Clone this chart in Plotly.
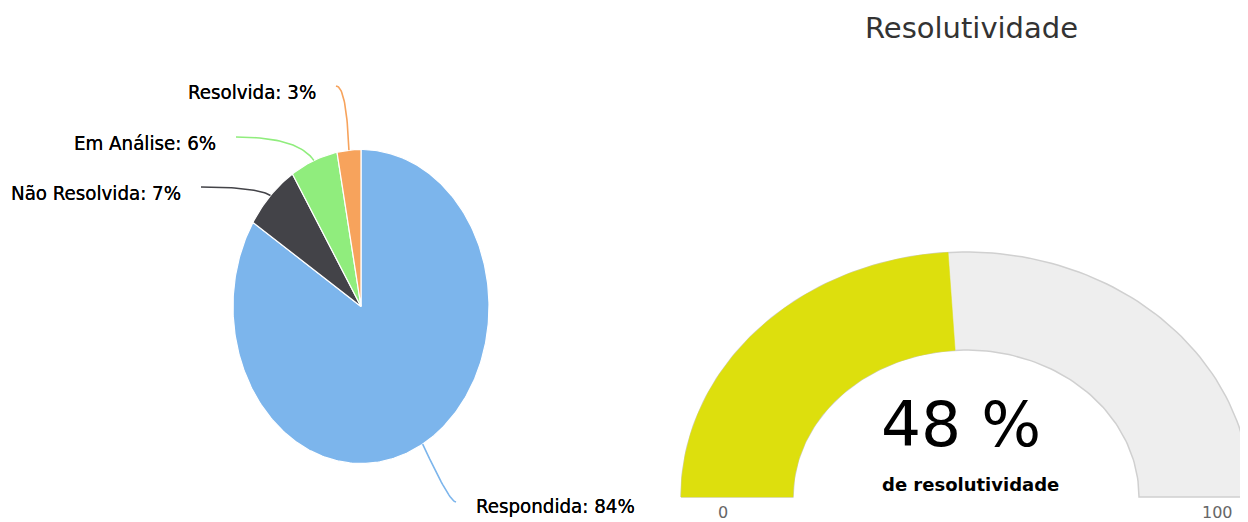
import numpy as np
import plotly.graph_objects as go

# ---------------- data ----------------
pie_labels = ["Respondida", "Não Resolvida", "Em Análise", "Resolvida"]
pie_values = [84, 7, 6, 3]
pie_colors = ["#7cb5ec", "#434348", "#90ed7d", "#f7a35c"]

gauge_title = "Resolutividade"
gauge_value = 48
gauge_min = 0
gauge_max = 100
gauge_caption = "de resolutividade"

# ---------------- layout constants (pixel space) ----------------
W, H = 1248, 522
OFF = 8  # page body margin
PIE_CX, PIE_CY, PIE_RX, PIE_RY = 361, 306.5, 128, 157
G_CX, G_CY = 966, 497
G_RXO, G_RYO, G_RXI, G_RYI = 285, 245, 173, 147

# label placement: (anchor side, text x, text y, connector bend factor)
label_pos = {
    "Respondida": ("left", 474, 506, 0.8),
    "Não Resolvida": ("right", 183, 193, 0.2),
    "Em Análise": ("right", 218, 143, 0.2),
    "Resolvida": ("right", 318, 92, 0.2),
}
LABEL_FONT = dict(family="Liberation Sans Narrow, DejaVu Sans Condensed, Arial Narrow, sans-serif",
                  size=20.3, color="#000000", shadow="0px 0px 0.6px #000")

fig = go.Figure()

# ---------------- pie (elliptical, drawn from values) ----------------
total = float(sum(pie_values))
start = 0.0
for lab, val, col in zip(pie_labels, pie_values, pie_colors):
    f0, f1 = start / total, (start + val) / total
    a = np.linspace(2 * np.pi * f0, 2 * np.pi * f1, max(8, int(val * 4)))
    xs = np.concatenate([[PIE_CX], PIE_CX + PIE_RX * np.sin(a), [PIE_CX]])
    ys = np.concatenate([[PIE_CY], PIE_CY - PIE_RY * np.cos(a), [PIE_CY]])
    fig.add_trace(go.Scatter(x=xs, y=ys, mode="lines", fill="toself",
                             fillcolor=col, line=dict(color="white", width=1.2),
                             hoverinfo="skip", showlegend=False))
    # connector + label
    am = 2 * np.pi * (f0 + f1) / 2
    p2 = np.array([PIE_CX + PIE_RX * np.sin(am), PIE_CY - PIE_RY * np.cos(am)])
    side, tx, ty, k = label_pos[lab]
    p0 = np.array([tx + 18, ty - 6]) if side == "right" else np.array([tx - 18, ty - 4])
    c = np.array([p2[0] + (p0[0] - p2[0]) * k, p0[1]])
    t = np.linspace(0, 1, 30)[:, None]
    curve = (1 - t) ** 2 * p0 + 2 * (1 - t) * t * c + t ** 2 * p2
    fig.add_trace(go.Scatter(x=curve[:, 0], y=curve[:, 1], mode="lines",
                             line=dict(color=col, width=1.6),
                             hoverinfo="skip", showlegend=False))
    fig.add_annotation(x=tx, y=ty, text=f"{lab}: {val}%", showarrow=False,
                       xanchor="right" if side == "right" else "left",
                       yanchor="middle", font=LABEL_FONT)
    start += val


# ---------------- gauge (elliptical band) ----------------
def band(v0, v1, n=120):
    th0 = np.pi - np.pi * (v0 - gauge_min) / (gauge_max - gauge_min)
    th1 = np.pi - np.pi * (v1 - gauge_min) / (gauge_max - gauge_min)
    th = np.linspace(th0, th1, n)
    xo = G_CX + G_RXO * np.cos(th)
    yo = G_CY - G_RYO * np.sin(th)
    xi = G_CX + G_RXI * np.cos(th[::-1])
    yi = G_CY - G_RYI * np.sin(th[::-1])
    return np.concatenate([xo, xi, xo[:1]]), np.concatenate([yo, yi, yo[:1]])


bx, by = band(gauge_min, gauge_max)
fig.add_trace(go.Scatter(x=bx, y=by, mode="lines", fill="toself", fillcolor="#eeeeee",
                         line=dict(color="#d0d0d0", width=1.5),
                         hoverinfo="skip", showlegend=False))
vx, vy = band(gauge_min, gauge_value)
fig.add_trace(go.Scatter(x=vx, y=vy, mode="lines", fill="toself", fillcolor="#dddf0d",
                         line=dict(color="#dddf0d", width=0.5),
                         hoverinfo="skip", showlegend=False))

fig.add_annotation(x=971, y=28, text=gauge_title, showarrow=False,
                   font=dict(family="DejaVu Sans, sans-serif", size=29, color="#333333"),
                   xanchor="center", yanchor="middle")
fig.add_annotation(x=G_CX - 5, y=424, text=f"{gauge_value} %", showarrow=False,
                   font=dict(family="DejaVu Sans, sans-serif", size=63, color="#000000"),
                   xanchor="center", yanchor="middle")
fig.add_annotation(x=G_CX + 4, y=484, text=f"<b>{gauge_caption}</b>", showarrow=False,
                   font=dict(family="DejaVu Sans, sans-serif", size=18, color="#000000"),
                   xanchor="center", yanchor="middle")
fig.add_annotation(x=723, y=512, text=str(gauge_min), showarrow=False,
                   font=dict(family="DejaVu Sans, sans-serif", size=16, color="#666666"),
                   xanchor="center", yanchor="middle", borderpad=0)
fig.add_annotation(x=1217, y=512, text=str(gauge_max), showarrow=False,
                   font=dict(family="DejaVu Sans, sans-serif", size=16, color="#666666"),
                   xanchor="center", yanchor="middle", borderpad=0)

fig.update_layout(
    width=W, height=H,
    margin=dict(l=0, r=0, t=0, b=0),
    paper_bgcolor="white", plot_bgcolor="white",
    showlegend=False,
    xaxis=dict(range=[OFF, W + OFF], visible=False, fixedrange=True),
    yaxis=dict(range=[H + OFF, OFF], visible=False, fixedrange=True),
)

fig.write_html("out.html")
